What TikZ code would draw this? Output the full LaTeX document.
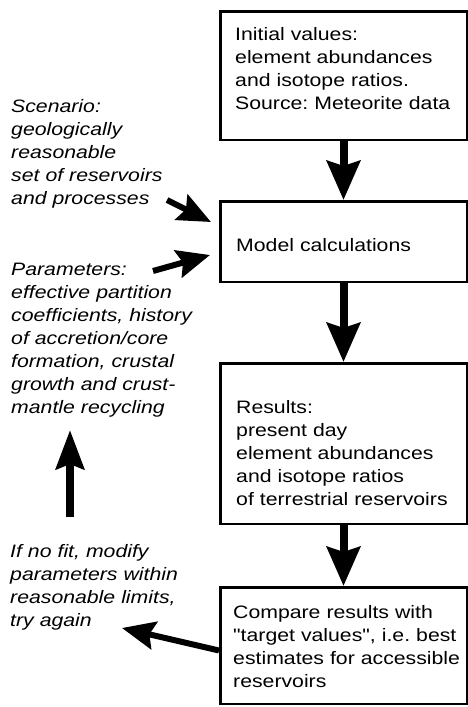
\documentclass[tikz,border=0pt]{standalone}
\usepackage{fontspec}
\newfontfamily\chartfamily{Liberation Sans}[FakeStretch=1.18]
\usetikzlibrary{arrows.meta}
\newcommand\chartfont{\chartfamily\fontsize{18}{23}\selectfont\frenchspacing}
\tikzset{
  stepbox/.style={draw, line width=2.5pt, minimum width=246.5pt, inner sep=0pt},
  boxtext/.style={anchor=base west, inner sep=0pt, text width=228pt, align=left, font=\chartfont},
  note/.style={anchor=base west, inner sep=0pt, text width=205pt, align=left, font=\chartfont\itshape},
  fatarrow/.style={line width=8pt, -{Stealth[length=39pt, width=#1, inset=5pt]}},
  fatarrow/.default=33pt,
  slimarrow/.style={line width=6pt, -{Stealth[length=33pt, width=28pt, inset=5pt]}}
}
\begin{document}
\begin{tikzpicture}[x=1pt, y=-1pt]
\useasboundingbox (0,0) rectangle (468,707);
\node[stepbox, minimum height=128.5pt] (init) at (343.5,75.5) {};
\node[stepbox, minimum height=80.5pt] (model) at (343.5,241.5) {};
\node[stepbox, minimum height=160.5pt] (results) at (343.5,443.5) {};
\node[stepbox, minimum height=116.5pt] (compare) at (343.5,645.5) {};
\node[boxtext] (init text) at (235,40) {Initial values:\\element abundances\\and isotope ratios.\\Source: Meteorite data};
\node[boxtext] (model text) at (236,251) {Model calculations};
\node[boxtext] (results text) at (236,413) {Results:\\present day\\element abundances\\and isotope ratios\\of terrestrial reservoirs};
\node[boxtext] (compare text) at (233,618) {Compare results with\\"target values", i.e. best\\estimates for accessible\\reservoirs};
\node[note] (scenario) at (11,112) {Scenario:\\geologically\\reasonable\\set of reservoirs\\and processes};
\node[note] (params) at (11,275) {Parameters:\\effective partition\\coefficients, history\\of accretion/core\\formation, crustal\\growth and crust-\\mantle recycling};
\node[note] (retry) at (10,557) {If no fit, modify\\parameters within\\reasonable limits,\\try again};
\coordinate (scenario tail) at (167,200);
\coordinate (params tail) at (153,271);
\coordinate (retry tip) at (122,628);
\coordinate (up tail) at (70,517);
\coordinate (up tip) at (70,430);
\draw[fatarrow] (init.south) -- (model.north);
\draw[fatarrow] (model.south) -- (results.north);
\draw[fatarrow] (results.south) -- (compare.north);
\draw[slimarrow] (scenario tail) -- ([xshift=-8pt, yshift=19.5pt]model.west);
\draw[slimarrow] (params tail) -- ([xshift=-9pt, yshift=-13.5pt]model.west);
\draw[slimarrow] ([yshift=-5pt]compare.west) -- (retry tip);
\draw[fatarrow=28pt] (up tail) -- (up tip);
\end{tikzpicture}
\end{document}
